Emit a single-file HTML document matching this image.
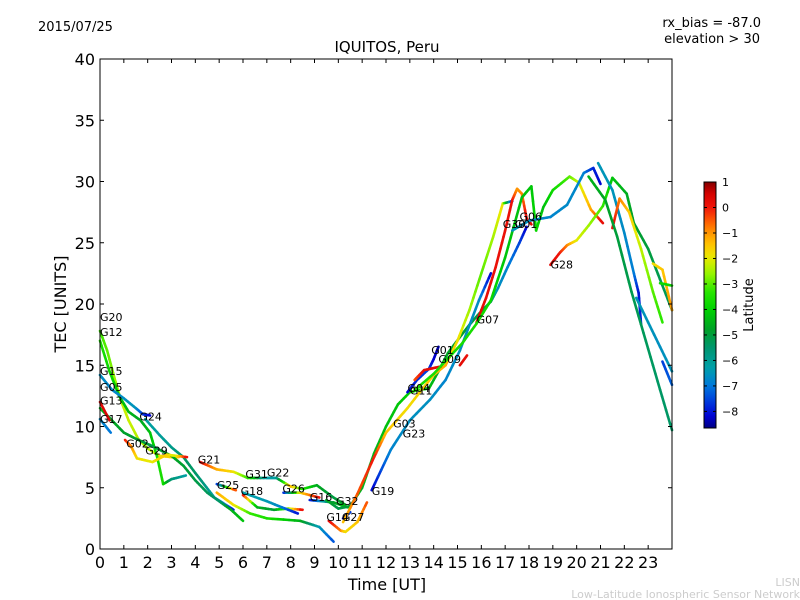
<!DOCTYPE html>
<html><head><meta charset="utf-8"><style>
body{margin:0;background:#fff;}
svg{display:block;font-family:"DejaVu Sans","Liberation Sans",sans-serif;}
</style></head><body>
<svg id="chart" width="800" height="600" viewBox="0 0 800 600" xmlns="http://www.w3.org/2000/svg">
<rect x="0" y="0" width="800" height="600" fill="#fff"/>
<text x="38" y="31" font-size="13">2015/07/25</text>
<text x="761" y="27" font-size="13" text-anchor="end">rx_bias = -87.0</text>
<text x="760" y="43" font-size="13" text-anchor="end">elevation &gt; 30</text>
<text x="387" y="52" font-size="15" text-anchor="middle">IQUITOS, Peru</text>
<text x="66" y="304" font-size="16" text-anchor="middle" transform="rotate(-90 66 304)">TEC [UNITS]</text>
<text x="387" y="590" font-size="16" text-anchor="middle">Time [UT]</text>
<text x="753" y="305" font-size="13" text-anchor="middle" transform="rotate(-90 753 305)">Latitude</text>
<text x="800" y="586" font-size="11" fill="#ccc" text-anchor="end">LISN</text>
<text x="800" y="598" font-size="11" fill="#ccc" text-anchor="end">Low-Latitude Ionospheric Sensor Network</text>
<g id="tracks"></g>
<g id="labels"></g>
<g id="axes"></g>
<g id="cbar"></g>
</svg>
<script>
// ---- data (time UT, TEC, latitude per point) ----
const trackTime = [
 [0,0.3,0.6,0.9,1.2,1.6,2,2.5,3,3.3],
 [0,0.4,0.8,1.2,1.7,2.1,2.4,2.65,3,3.6],
 [0,0.5,1,1.5,1.8,2.1],
 [1.9,2.5,3,3.5,4,4.4,4.8,5.2,5.6],
 [0,0.5,1,1.5,2.2,3,3.5,4,4.5,5,5.5,6],
 [0,0.4],
 [0,0.45],
 [1.05,1.3,1.55,2.2,2.5,2.8,3.2,3.65],
 [4.2,4.9,5.6,6.2,7,7.4,8,8.5,9.1,9.8,10.3],
 [4.9,5.7],
 [4.9,5.6,6.3,7,8.4,9.2,9.8],
 [6,6.6,7.3,7.9,8.5],
 [6,7,7.5,8.3],
 [7.7,8.4,9.2],
 [8.8,9.8,10.4],
 [9.6,10.1,10.3,10.8,11.2],
 [10.2,10.5],
 [9.5,10,10.5,11,11.5,12,12.5,13,13.4,13.8,14.2,14.6,15.1,15.5,15.9,16.4,16.7,17.1,17.6,17.9],
 [11.4,12.2,13,13.85,14.5,15.1,15.9,16.4],
 [10.2,10.8,11.5,12,12.9,13.5,14,14.5,15,15.5,16,16.5,16.9,17.3],
 [12.9,13.3,13.8,14,14.2],
 [13.2,13.6,14.3],
 [15.1,15.4],
 [15.8,16.2,16.6,17,17.3,17.5,17.7,17.9,18.1],
 [13.1,14,15.2,15.8,16.4,17,17.7,18.1,18.3,18.6,19,19.7,20.1,20.6,21.1],
 [18.9,19.3,19.6,20,20.5,21.1,21.5,22.1,22.4,23,23.5,24],
 [17.3,18,18.9,19.6,20.3,20.7,21],
 [20.9,21.5,22,22.4,22.6,22.7],
 [21.5,21.8,22.2,22.7,23.2,23.6],
 [20.5,21.2,21.7,22.3,22.9,23.5,24],
 [23.2,23.6,24],
 [23.5,24],
 [23.6,24],
 [22.5,23,23.5,24]
];
const trackTec = [
 [17.8,16.2,14,12,10.5,9,8.2,7.6,7.5,7.5],
 [17,14.5,12.5,11.2,10.5,9.5,7.5,5.3,5.7,6.0],
 [14.2,13,12.3,11.5,11,10.9],
 [10.6,9.3,8.3,7.5,6.2,5.2,4.2,3.7,3.2],
 [11.5,10.5,9.5,9,8.4,7.6,6.8,5.6,4.6,3.9,3.2,2.3],
 [12,10.5],
 [10.6,9.5],
 [8.9,8.4,7.4,7.1,7.4,7.7,7.6,7.5],
 [7.1,6.5,6.3,5.8,5.8,5.8,5.1,4.9,5.2,4.2,3.6],
 [5.3,4.8],
 [4.6,3.6,2.9,2.5,2.3,1.8,0.6],
 [4.4,3.4,3.2,3.3,3.2],
 [4.6,3.9,3.5,2.9],
 [4.6,4.6,4.2],
 [4.0,3.8,3.4],
 [2.3,1.5,1.4,2.2,3.8],
 [2.5,3.0],
 [4.0,3.3,3.5,5,7.8,10,11.8,12.8,13,13.1,14.5,16,17.3,18.3,19.2,20.2,21.3,23,25,26.3],
 [4.8,8.1,10.5,12.2,13.8,16.2,20.3,22.5],
 [2.2,4.5,7.5,9.5,11.5,13,14.2,15,17,19.5,22.5,25.5,28.2,28.4],
 [12.8,13.8,14.7,15.5,16.5],
 [13.8,14.6,14.9],
 [15.0,15.8],
 [18.5,20.5,23,26,28.5,29.4,29,27,26.5],
 [12.8,14.3,16.8,18.4,20.3,23.8,28.7,29.6,26.0,27.9,29.3,30.4,29.9,27.7,26.6],
 [23.2,24.2,24.8,25.2,26.4,28,30.3,29,26.6,24.5,22,19.5],
 [26.0,26.8,27.1,28.1,30.7,31.1,29.8],
 [31.5,29.3,25.8,22.5,20.9,18.4],
 [26.2,28.6,27.5,24.5,21,18.5],
 [30.4,28.5,25.5,21,17,13,9.7],
 [23.3,22.8,19.5],
 [21.7,21.5],
 [15.3,13.4],
 [20.5,18.5,16.5,14.5]
];
const trackLat = [
 [-3.2,-3,-2.6,-2.3,-2.2,-2.4,-2.5,-1.9,-1.6,-1.4],
 [-3.5,-3.8,-4.1,-4.4,-4.7,-4.3,-3.6,-3.6,-5.6,-6.2],
 [-6.6,-6.8,-6.6,-6.5,-7.6,-8.2],
 [-6.2,-6.1,-5.9,-5.4,-5.4,-5.8,-6.2,-6.8,-8],
 [-4.5,-4.6,-4.8,-4.9,-5.1,-4.6,-4.9,-5.1,-5.3,-5.5,-4.6,-4.2],
 [0.3,0.5],
 [-6.7,-7],
 [0,-0.8,-1.8,-2,-1.6,-1.6,-2.2,0.3],
 [0.3,-1.2,-1.8,-3.2,-6.3,-6.2,-1.2,-3.4,-4.6,-5.1,-4.6],
 [-8.2,0.2],
 [-1.2,-1.8,-3.2,-3.5,-4.5,-6.4,-7.4],
 [0.3,-4.5,-5,-2.8,0.3],
 [-6.3,-6.4,-6.7,-8],
 [-8.2,-1.8,0.2],
 [-8.2,-4.8,-4.3],
 [0.3,-0.8,-1.8,-1.5,-0.4],
 [-8.2,-7.5],
 [-4.5,-5.2,-4.8,-4.5,-4.5,-4.3,-4.2,-4,-3.6,-4.3,-4.6,-4.7,-4.8,-5,-5.1,-5.2,-6.6,-6.8,-7.5,-8.2],
 [-8.2,-6.8,-6.6,-6.6,-6.8,-6.6,-6.6,-8.2],
 [-1.5,-0.5,0,-1.4,-1.8,-1.6,-1.5,-1.2,-1.8,-2.5,-3,-2.5,-1.8,-8],
 [-8.2,-7.8,-7.5,-8.2,-8.4],
 [-0.5,0.2,0.2],
 [0.3,0.1],
 [0.3,0.2,0.1,0.1,0.1,-1,-0.9,0.2,0.3],
 [-3.4,-3.6,-3.6,-3.6,-3.8,-4.2,-4.3,-4.2,-3.8,-4.3,-3.8,-3,-2.2,-1.2,0.3],
 [0.3,0,-0.8,-2,-2.5,-3.2,-4.2,-4.6,-4.8,-5,-5.2,-5.3],
 [-6.5,-6.6,-6.8,-6.7,-6.8,-7.8,-8.2],
 [-6.5,-6.5,-6.7,-6.9,-8,-7.8],
 [0.3,-0.8,-1.5,-2.3,-3.0,-3.3],
 [-4.5,-4.7,-5,-5.2,-5.3,-5.4,-5.4],
 [-1.8,-1.5,-1],
 [-3.8,-3.8],
 [-7.6,-7.2],
 [-6.5,-6.5,-6.6,-6.5]
];
const prnNames = ["G20","G12","G15","G05","G13","G17","G24","G02","G29","G21","G25","G31","G22","G18","G26","G16","G32","G14","G27","G19","G03","G23","G04","G11","G01","G09","G07","G30","G01","G06","G28"];
const prnTime  = [0,0,0,0,0,0,1.65,1.1,1.9,4.1,4.9,6.1,7.0,5.9,7.65,8.8,9.9,9.5,10.15,11.4,12.3,12.7,12.9,13.0,13.9,14.2,15.8,16.9,17.4,17.6,18.9];
const prnTec   = [18.6,17.4,14.2,12.9,11.8,10.3,10.5,8.3,7.7,7.0,4.9,5.8,5.9,4.4,4.6,3.9,3.6,2.3,2.3,4.4,9.9,9.1,12.8,12.6,15.9,15.2,18.4,26.2,26.2,26.8,22.9];
const xTicks = [0,1,2,3,4,5,6,7,8,9,10,11,12,13,14,15,16,17,18,19,20,21,22,23];
const yTicks = [0,5,10,15,20,25,30,35,40];
const cbTicks = [1,0,-1,-2,-3,-4,-5,-6,-7,-8];

// ---- layout ----
const X0=100,X1=672,Y0=549,Y1=59, CBX=704,CBW=12,CBT=182,CBB=428, LATMAX=1.0, LATMIN=-8.65;
const xs = t => X0 + t/24*(X1-X0);
const ys = v => Y0 - v/40*(Y0-Y1);
const cs = l => CBT + (LATMAX-l)/(LATMAX-LATMIN)*(CBB-CBT);
const stops=[[1,[128,0,0]],[0.6,[210,0,0]],[0,[240,20,10]],[-0.6,[255,100,0]],[-1,[255,150,0]],[-1.5,[255,200,0]],[-2,[230,235,0]],[-2.6,[150,245,0]],[-3.3,[40,230,0]],[-4,[0,210,0]],[-4.8,[0,160,40]],[-5.5,[0,150,110]],[-6.3,[0,160,170]],[-7,[0,120,220]],[-7.6,[0,60,220]],[-8.2,[0,0,210]],[-8.65,[0,0,130]]];
function col(l){
  if(l>=stops[0][0]) return 'rgb('+stops[0][1]+')';
  for(let i=0;i<stops.length-1;i++){
    const a=stops[i],b=stops[i+1];
    if(l<=a[0]&&l>=b[0]){const f=(a[0]-l)/(a[0]-b[0]);
      return 'rgb('+a[1].map((c,k)=>Math.round(c+(b[1][k]-c)*f)).join(',')+')';}
  }
  return 'rgb('+stops[stops.length-1][1]+')';
}
const NS='http://www.w3.org/2000/svg';
function mk(tag,attrs,parent){const e=document.createElementNS(NS,tag);for(const k in attrs)e.setAttribute(k,attrs[k]);parent.appendChild(e);return e;}

const gT=document.getElementById('tracks');
trackTime.forEach((tt,i)=>{
  const g=mk('g',{},gT);
  
  
  for(let j=0;j<tt.length-1;j++){
    const n=6;
    for(let k=0;k<n;k++){
      const f0=k/n,f1=(k+1)/n;
      const t0=tt[j]+(tt[j+1]-tt[j])*f0,t1=tt[j]+(tt[j+1]-tt[j])*f1;
      const v0=trackTec[i][j]+(trackTec[i][j+1]-trackTec[i][j])*f0,v1=trackTec[i][j]+(trackTec[i][j+1]-trackTec[i][j])*f1;
      const l=trackLat[i][j]+(trackLat[i][j+1]-trackLat[i][j])*(f0+f1)/2;
      mk('line',{x1:xs(t0),y1:ys(v0),x2:xs(t1),y2:ys(v1),stroke:col(l),'stroke-width':2.6,'stroke-linecap':'round'},g);
    }
  }
});
const gL=document.getElementById('labels');
prnNames.forEach((n,i)=>{
  const t=mk('text',{x:xs(prnTime[i]),y:ys(prnTec[i]),'font-size':11},gL);
  
  
  t.textContent=n;
});
const gA=document.getElementById('axes');
const frame=mk('rect',{x:X0,y:Y1,width:X1-X0,height:Y0-Y1,fill:'none',stroke:'#000','stroke-width':1},gA);


xTicks.forEach(v=>{
  const x=xs(v);
  mk('line',{x1:x,y1:Y0,x2:x,y2:Y0-4,stroke:'#000'},gA);
  mk('line',{x1:x,y1:Y1,x2:x,y2:Y1+4,stroke:'#000'},gA);
  const t=mk('text',{x:x,y:Y0+19,'font-size':16,'text-anchor':'middle'},gA);
  
  
  t.textContent=v;
});
yTicks.forEach(v=>{
  const y=ys(v);
  mk('line',{x1:X0,y1:y,x2:X0+4,y2:y,stroke:'#000'},gA);
  mk('line',{x1:X1,y1:y,x2:X1-4,y2:y,stroke:'#000'},gA);
  const t=mk('text',{x:X0-5,y:y+6,'font-size':16,'text-anchor':'end'},gA);
  
  
  t.textContent=v;
});
const gC=document.getElementById('cbar');
const def=mk('defs',{},gC);
const lg=mk('linearGradient',{id:'cbg',x1:0,y1:0,x2:0,y2:1},def);
for(let i=0;i<=40;i++){const l=LATMAX-(LATMAX-LATMIN)*i/40;mk('stop',{offset:(i/40),'stop-color':col(l)},lg);}
const cb=mk('rect',{x:CBX,y:CBT,width:CBW,height:CBB-CBT,fill:'url(#cbg)',stroke:'#000','stroke-width':1},gC);


cbTicks.forEach(v=>{
  const y=cs(v);
  mk('line',{x1:CBX,y1:y,x2:CBX+3,y2:y,stroke:'#000'},gC);
  mk('line',{x1:CBX+CBW,y1:y,x2:CBX+CBW-3,y2:y,stroke:'#000'},gC);
  const t=mk('text',{x:CBX+CBW+6,y:y+4,'font-size':11},gC);
  
  
  t.textContent=v<0?'\u2212'+(-v):v;
});
</script>
</body></html>
